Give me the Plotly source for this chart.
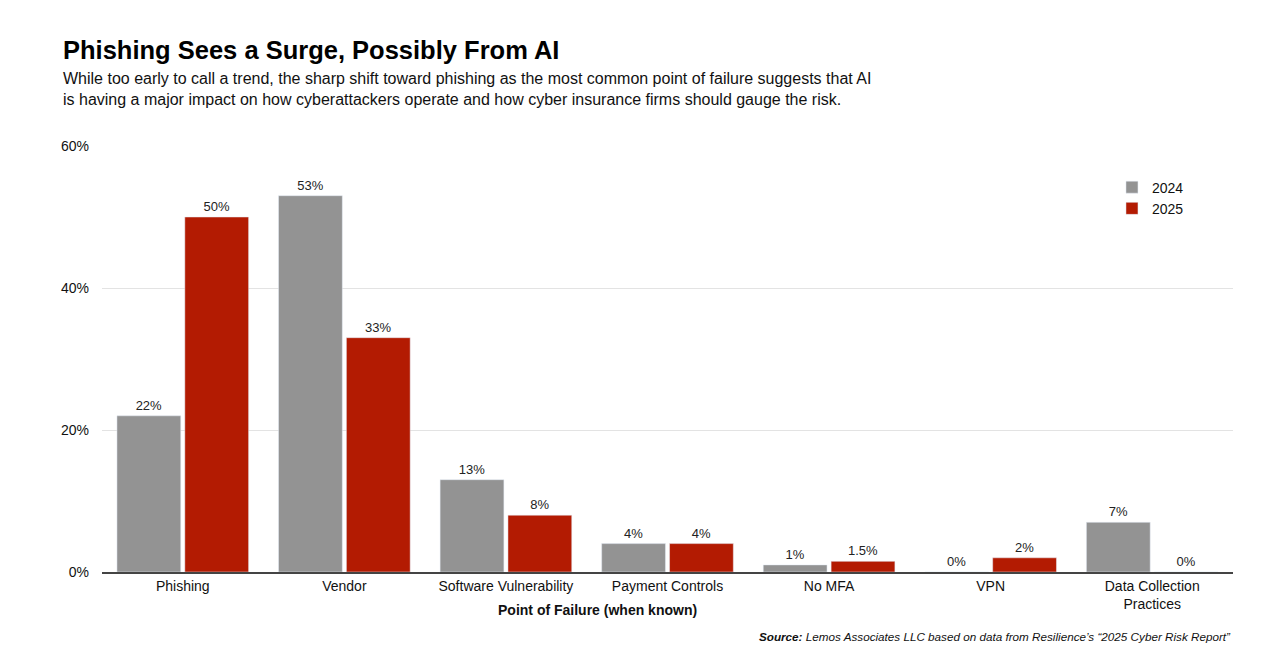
import plotly.graph_objects as go

categories = ["Phishing", "Vendor", "Software Vulnerability", "Payment Controls",
              "No MFA", "VPN", "Data Collection<br>Practices"]
values_2024 = [22, 53, 13, 4, 1, 0, 7]
values_2025 = [50, 33, 8, 4, 1.5, 2, 0]
y_ticks = [0, 20, 40, 60]

FONT = "Liberation Sans, Arial, Helvetica, sans-serif"

fig = go.Figure()
for name, vals, color in [("2024", values_2024, "#939393"), ("2025", values_2025, "#B31B02")]:
    fig.add_trace(go.Bar(
        x=categories, y=vals, name=name, marker_color=color,
        text=[f"{v:g}%" for v in vals], textposition="outside",
        textfont=dict(size=13, color="#222"), cliponaxis=False,
    ))

fig.update_layout(
    width=1280, height=667,
    margin=dict(l=102, r=47, t=146, b=95),
    paper_bgcolor="white", plot_bgcolor="white",
    font=dict(family=FONT, color="#111", size=14),
    barmode="group", bargap=0.16, bargroupgap=0.06,
    showlegend=True,
    legend=dict(x=0.893, y=0.94, xanchor="left", yanchor="top",
                font=dict(size=14), tracegroupgap=0, itemwidth=30),
    xaxis=dict(showline=True, linecolor="#444", linewidth=1.5, ticks="",
               tickfont=dict(size=14)),
    yaxis=dict(range=[0, 60], tickvals=y_ticks, ticktext=[f"{t}%" for t in y_ticks],
               showgrid=True, gridcolor="#e3e3e3", gridwidth=1, zeroline=False, ticks="",
               tickfont=dict(size=14), ticklabelstandoff=12),
)

fig.add_annotation(text="<b>Phishing Sees a Surge, Possibly From AI</b>",
                   xref="paper", yref="paper", x=-0.036, y=1.0, yshift=96,
                   xanchor="left", yanchor="middle", showarrow=False,
                   font=dict(size=25.5, color="#000"))
fig.add_annotation(text="While too early to call a trend, the sharp shift toward phishing as the most common point of failure suggests that AI<br>is having a major impact on how cyberattackers operate and how cyber insurance firms should gauge the risk.",
                   xref="paper", yref="paper", x=-0.036, y=1.0, yshift=57,
                   xanchor="left", yanchor="middle", showarrow=False, align="left",
                   font=dict(size=16, color="#111"))
fig.add_annotation(text="<b>Point of Failure (when known)</b>",
                   xref="paper", yref="paper", x=(597 - 102) / 1131, y=0, yshift=-38,
                   xanchor="center", yanchor="middle", showarrow=False,
                   font=dict(size=14, color="#111"))
fig.add_annotation(text="<b><i>Source:</i></b><i> Lemos Associates LLC based on data from Resilience’s “2025 Cyber Risk Report”</i>",
                   xref="paper", yref="paper", x=1.0, y=0, yshift=-64,
                   xanchor="right", yanchor="middle", showarrow=False,
                   font=dict(size=11.7, color="#111"))

fig.write_html("out.html")
